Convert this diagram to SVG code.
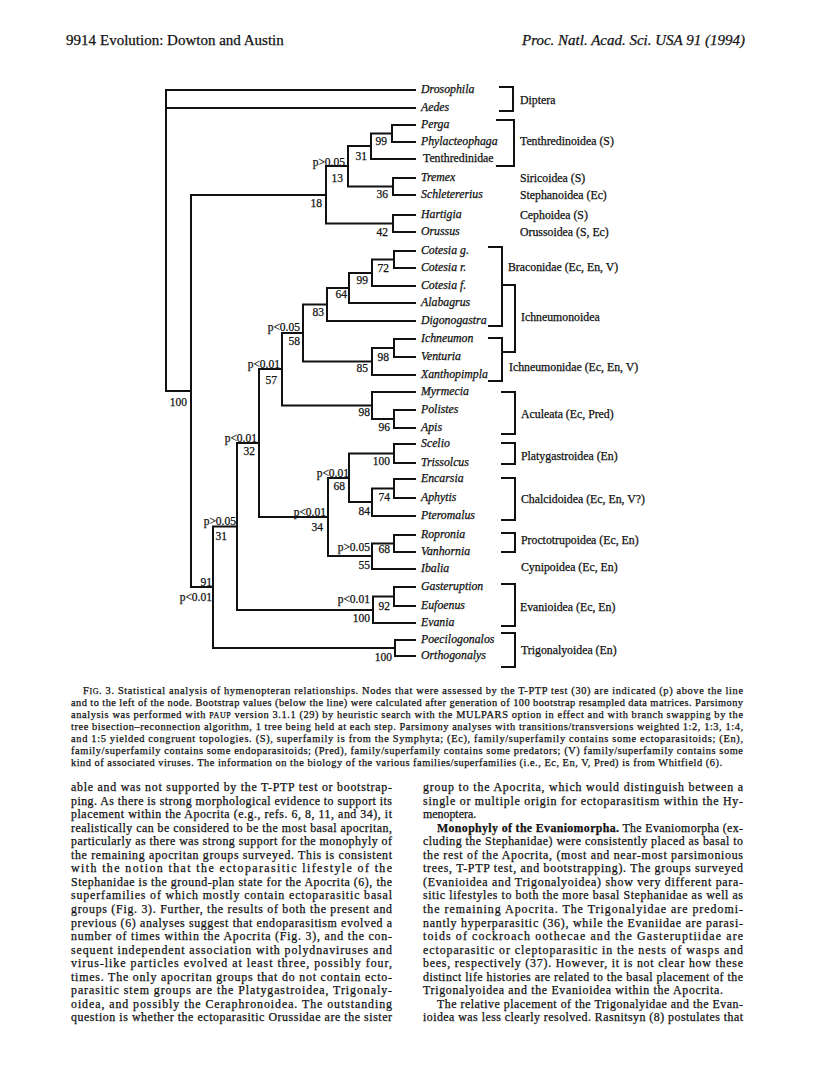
<svg xmlns="http://www.w3.org/2000/svg" width="816" height="1078" viewBox="0 0 816 1078">
<style>
.bg{fill:#fff}
.ln{fill:none;stroke:#111;stroke-width:2;stroke-linecap:square;stroke-linejoin:miter}
.t{font-family:"Liberation Serif","Times New Roman",serif;fill:#111;stroke:#111;stroke-width:0.25px}
.lf{font-size:11.8px;font-style:italic}
.lr{font-size:11.8px}
.bs{font-size:11.5px;text-anchor:end}
.gl{font-size:11.8px}
.hdr{font-size:15px}
.cap{font-size:10.4px}
.body{font-size:11.9px}
.b{font-weight:bold}
</style>
<rect class="bg" x="0" y="0" width="816" height="1078"/>
<g id="header" class="t">
<text class="hdr" x="66" y="45">9914</text>
<text class="hdr" x="100" y="45">Evolution: Dowton and Austin</text>
<text class="hdr" x="745" y="45" text-anchor="end" font-style="italic">Proc. Natl. Acad. Sci. USA 91 (1994)</text>
</g>
<g id="connectors" class="ln">
<path d="M415,90 H166 V391 H191 M415,108 H166"/>
<path d="M415,125 H392 V142 H415"/>
<path d="M392,133.5 H371 V159 H415"/>
<path d="M415,178 H393 V195 H415"/>
<path d="M371,146 H348 V186.5 H393"/>
<path d="M415,215 H393 V232 H415"/>
<path d="M348,166 H326 V223.5 H393"/>
<path d="M415,251 H394 V268 H415"/>
<path d="M394,259.5 H372 V286 H415"/>
<path d="M372,273 H349 V303 H415"/>
<path d="M349,288 H327 V321 H415"/>
<path d="M415,339 H394 V357 H415"/>
<path d="M394,348 H372 V375 H415"/>
<path d="M327,304.5 H303 V361.5 H372"/>
<path d="M415,410 H394 V428 H415"/>
<path d="M415,392 H372 V419 H394"/>
<path d="M303,333 H282 V405.5 H372"/>
<path d="M415,444 H394 V463 H415"/>
<path d="M415,479 H394 V498 H415"/>
<path d="M394,488.5 H372 V516 H415"/>
<path d="M394,453.5 H349 V502 H372"/>
<path d="M415,535 H394 V552 H415"/>
<path d="M394,543.5 H372 V569 H415"/>
<path d="M349,478 H328 V556 H372"/>
<path d="M282,369 H259 V517 H328"/>
<path d="M415,587 H394 V606 H415"/>
<path d="M394,596.5 H373 V623 H415"/>
<path d="M259,443 H237 V610 H373"/>
<path d="M415,640 H395 V656 H415"/>
<path d="M237,526.5 H213 V648 H395"/>
<path d="M326,195 H191 V587 H213"/>
</g>
<g id="brackets" class="ln">
<path d="M500,87 H513 V111 H500"/>
<path d="M497,120 H514 V166 H497"/>
<path d="M489,247 H502 V326 H489"/>
<path d="M489,338 H502 V381 H489"/>
<path d="M502,285 H515 V352 H502"/>
<path d="M502,392 H515 V434 H502"/>
<path d="M502,443 H515 V464 H502"/>
<path d="M502,478 H515 V520 H502"/>
<path d="M502,533 H515 V552 H502"/>
<path d="M502,584 H515 V626 H502"/>
<path d="M502,633 H515 V667 H502"/>
</g>
<g id="support-values" class="t">
<text class="bs" x="387" y="145">99</text>
<text class="bs" x="367" y="160">31</text>
<text class="bs" x="345" y="166">p&gt;0.05</text>
<text class="bs" x="343" y="182">13</text>
<text class="bs" x="388" y="198">36</text>
<text class="bs" x="388" y="236">42</text>
<text class="bs" x="322" y="207">18</text>
<text class="bs" x="389" y="272">72</text>
<text class="bs" x="368" y="284">99</text>
<text class="bs" x="347" y="298">64</text>
<text class="bs" x="324" y="316">83</text>
<text class="bs" x="300" y="331">p&lt;0.05</text>
<text class="bs" x="300" y="345">58</text>
<text class="bs" x="389" y="361">98</text>
<text class="bs" x="368" y="372">85</text>
<text class="bs" x="280" y="368">p&lt;0.01</text>
<text class="bs" x="277" y="384">57</text>
<text class="bs" x="370" y="416">98</text>
<text class="bs" x="390" y="431">96</text>
<text class="bs" x="257" y="442">p&lt;0.01</text>
<text class="bs" x="255" y="455">32</text>
<text class="bs" x="390" y="465">100</text>
<text class="bs" x="349" y="477">p&lt;0.01</text>
<text class="bs" x="345" y="490">68</text>
<text class="bs" x="390" y="501">74</text>
<text class="bs" x="370" y="515">84</text>
<text class="bs" x="326" y="516">p&lt;0.01</text>
<text class="bs" x="323" y="531">34</text>
<text class="bs" x="236" y="525">p&gt;0.05</text>
<text class="bs" x="227" y="540">31</text>
<text class="bs" x="370" y="551">p&gt;0.05</text>
<text class="bs" x="390" y="553">68</text>
<text class="bs" x="370" y="569">55</text>
<text class="bs" x="212" y="586">91</text>
<text class="bs" x="212" y="601">p&lt;0.01</text>
<text class="bs" x="370" y="603">p&lt;0.01</text>
<text class="bs" x="390" y="610">92</text>
<text class="bs" x="370" y="622">100</text>
<text class="bs" x="392" y="661">100</text>
<text class="bs" x="187" y="406">100</text>
</g>
<g id="leaves" class="t">
<g id="n-drosophila"><text class="lf" x="421" y="93">Drosophila</text></g>
<g id="n-aedes"><text class="lf" x="421" y="111">Aedes</text></g>
<g id="n-perga"><text class="lf" x="421" y="128">Perga</text></g>
<g id="n-phylacteophaga"><text class="lf" x="421" y="145">Phylacteophaga</text></g>
<g id="n-tenthredinidae"><text class="lr" x="423" y="162">Tenthredinidae</text></g>
<g id="n-tremex"><text class="lf" x="421" y="181">Tremex</text></g>
<g id="n-schletererius"><text class="lf" x="421" y="198">Schletererius</text></g>
<g id="n-hartigia"><text class="lf" x="421" y="218">Hartigia</text></g>
<g id="n-orussus"><text class="lf" x="421" y="235">Orussus</text></g>
<g id="n-cotesia-g"><text class="lf" x="421" y="254">Cotesia g.</text></g>
<g id="n-cotesia-r"><text class="lf" x="421" y="271">Cotesia r.</text></g>
<g id="n-cotesia-f"><text class="lf" x="421" y="289">Cotesia f.</text></g>
<g id="n-alabagrus"><text class="lf" x="421" y="306">Alabagrus</text></g>
<g id="n-digonogastra"><text class="lf" x="421" y="324">Digonogastra</text></g>
<g id="n-ichneumon"><text class="lf" x="421" y="342">Ichneumon</text></g>
<g id="n-venturia"><text class="lf" x="421" y="360">Venturia</text></g>
<g id="n-xanthopimpla"><text class="lf" x="421" y="378">Xanthopimpla</text></g>
<g id="n-myrmecia"><text class="lf" x="421" y="395">Myrmecia</text></g>
<g id="n-polistes"><text class="lf" x="421" y="413">Polistes</text></g>
<g id="n-apis"><text class="lf" x="421" y="431">Apis</text></g>
<g id="n-scelio"><text class="lf" x="421" y="447">Scelio</text></g>
<g id="n-trissolcus"><text class="lf" x="421" y="466">Trissolcus</text></g>
<g id="n-encarsia"><text class="lf" x="421" y="482">Encarsia</text></g>
<g id="n-aphytis"><text class="lf" x="421" y="501">Aphytis</text></g>
<g id="n-pteromalus"><text class="lf" x="421" y="519">Pteromalus</text></g>
<g id="n-ropronia"><text class="lf" x="421" y="538">Ropronia</text></g>
<g id="n-vanhornia"><text class="lf" x="421" y="555">Vanhornia</text></g>
<g id="n-ibalia"><text class="lf" x="421" y="572">Ibalia</text></g>
<g id="n-gasteruption"><text class="lf" x="421" y="590">Gasteruption</text></g>
<g id="n-eufoenus"><text class="lf" x="421" y="609">Eufoenus</text></g>
<g id="n-evania"><text class="lf" x="421" y="626">Evania</text></g>
<g id="n-poecilogonalos"><text class="lf" x="421" y="643">Poecilogonalos</text></g>
<g id="n-orthogonalys"><text class="lf" x="421" y="659">Orthogonalys</text></g>
</g>
<g id="groups" class="t">
<g id="g-diptera"><text class="gl" x="520" y="104">Diptera</text></g>
<g id="g-tenthredinoidea"><text class="gl" x="520" y="145">Tenthredinoidea (S)</text></g>
<g id="g-siricoidea"><text class="gl" x="520" y="182">Siricoidea (S)</text></g>
<g id="g-stephanoidea"><text class="gl" x="520" y="199">Stephanoidea (Ec)</text></g>
<g id="g-cephoidea"><text class="gl" x="520" y="219">Cephoidea (S)</text></g>
<g id="g-orussoidea"><text class="gl" x="520" y="236">Orussoidea (S, Ec)</text></g>
<g id="g-braconidae"><text class="gl" x="508" y="271">Braconidae (Ec, En, V)</text></g>
<g id="g-ichneumonoidea"><text class="gl" x="521" y="321">Ichneumonoidea</text></g>
<g id="g-ichneumonidae"><text class="gl" x="509" y="371">Ichneumonidae (Ec, En, V)</text></g>
<g id="g-aculeata"><text class="gl" x="521" y="418">Aculeata (Ec, Pred)</text></g>
<g id="g-platygastroidea"><text class="gl" x="521" y="460">Platygastroidea (En)</text></g>
<g id="g-chalcidoidea"><text class="gl" x="521" y="503">Chalcidoidea (Ec, En, V?)</text></g>
<g id="g-proctotrupoidea"><text class="gl" x="521" y="544">Proctotrupoidea (Ec, En)</text></g>
<g id="g-cynipoidea"><text class="gl" x="521" y="571">Cynipoidea (Ec, En)</text></g>
<g id="g-evanioidea"><text class="gl" x="520" y="611">Evanioidea (Ec, En)</text></g>
<g id="g-trigonalyoidea"><text class="gl" x="521" y="654">Trigonalyoidea (En)</text></g>
</g>
<g id="caption" class="t cap">
<text x="83" y="694" textLength="660" lengthAdjust="spacing">F<tspan font-size="8px">IG</tspan>. 3.  Statistical analysis of hymenopteran relationships. Nodes that were assessed by the T-PTP test (30) are indicated (p) above the line</text>
<text x="71" y="706" textLength="672" lengthAdjust="spacing">and to the left of the node. Bootstrap values (below the line) were calculated after generation of 100 bootstrap resampled data matrices. Parsimony</text>
<text x="71" y="718" textLength="672" lengthAdjust="spacing">analysis was performed with <tspan font-size="8px">PAUP</tspan> version 3.1.1 (29) by heuristic search with the MULPARS option in effect and with branch swapping by the</text>
<text x="71" y="730" textLength="672" lengthAdjust="spacing">tree bisection–reconnection algorithm, 1 tree being held at each step. Parsimony analyses with transitions/transversions weighted 1:2, 1:3, 1:4,</text>
<text x="71" y="742" textLength="672" lengthAdjust="spacing">and 1:5 yielded congruent topologies. (S), superfamily is from the Symphyta; (Ec), family/superfamily contains some ectoparasitoids; (En),</text>
<text x="71" y="754" textLength="672" lengthAdjust="spacing">family/superfamily contains some endoparasitoids; (Pred), family/superfamily contains some predators; (V) family/superfamily contains some</text>
<text x="71" y="766" textLength="651" lengthAdjust="spacing">kind of associated viruses. The information on the biology of the various families/superfamilies (i.e., Ec, En, V, Pred) is from Whitfield (6).</text>
</g>
<g id="body-left" class="t body">
<text x="71" y="791" textLength="321" lengthAdjust="spacing">able and was not supported by the T-PTP test or bootstrap-</text>
<text x="71" y="804.6" textLength="321" lengthAdjust="spacing">ping. As there is strong morphological evidence to support its</text>
<text x="71" y="818.1" textLength="321" lengthAdjust="spacing">placement within the Apocrita (e.g., refs. 6, 8, 11, and 34), it</text>
<text x="71" y="831.7" textLength="321" lengthAdjust="spacing">realistically can be considered to be the most basal apocritan,</text>
<text x="71" y="845.2" textLength="321" lengthAdjust="spacing">particularly as there was strong support for the monophyly of</text>
<text x="71" y="858.8" textLength="321" lengthAdjust="spacing">the remaining apocritan groups surveyed. This is consistent</text>
<text x="71" y="872.3" textLength="321" lengthAdjust="spacing">with the notion that the ectoparasitic lifestyle of the</text>
<text x="71" y="885.9" textLength="321" lengthAdjust="spacing">Stephanidae is the ground-plan state for the Apocrita (6), the</text>
<text x="71" y="899.4" textLength="321" lengthAdjust="spacing">superfamilies of which mostly contain ectoparasitic basal</text>
<text x="71" y="913" textLength="321" lengthAdjust="spacing">groups (Fig. 3). Further, the results of both the present and</text>
<text x="71" y="926.5" textLength="321" lengthAdjust="spacing">previous (6) analyses suggest that endoparasitism evolved a</text>
<text x="71" y="940.1" textLength="321" lengthAdjust="spacing">number of times within the Apocrita (Fig. 3), and the con-</text>
<text x="71" y="953.6" textLength="321" lengthAdjust="spacing">sequent independent association with polydnaviruses and</text>
<text x="71" y="967.2" textLength="321" lengthAdjust="spacing">virus-like particles evolved at least three, possibly four,</text>
<text x="71" y="980.7" textLength="321" lengthAdjust="spacing">times. The only apocritan groups that do not contain ecto-</text>
<text x="71" y="994.3" textLength="321" lengthAdjust="spacing">parasitic stem groups are the Platygastroidea, Trigonaly-</text>
<text x="71" y="1007.8" textLength="321" lengthAdjust="spacing">oidea, and possibly the Ceraphronoidea. The outstanding</text>
<text x="71" y="1021.4" textLength="321" lengthAdjust="spacing">question is whether the ectoparasitic Orussidae are the sister</text>
</g>
<g id="body-right" class="t body">
<text x="423" y="791" textLength="320" lengthAdjust="spacing">group to the Apocrita, which would distinguish between a</text>
<text x="423" y="804.6" textLength="320" lengthAdjust="spacing">single or multiple origin for ectoparasitism within the Hy-</text>
<text x="423" y="818.1">menoptera.</text>
<text x="437" y="831.7" textLength="306" lengthAdjust="spacing"><tspan class="b">Monophyly of the Evaniomorpha.</tspan> The Evaniomorpha (ex-</text>
<text x="423" y="845.2" textLength="320" lengthAdjust="spacing">cluding the Stephanidae) were consistently placed as basal to</text>
<text x="423" y="858.8" textLength="320" lengthAdjust="spacing">the rest of the Apocrita, (most and near-most parsimonious</text>
<text x="423" y="872.3" textLength="320" lengthAdjust="spacing">trees, T-PTP test, and bootstrapping). The groups surveyed</text>
<text x="423" y="885.9" textLength="320" lengthAdjust="spacing">(Evanioidea and Trigonalyoidea) show very different para-</text>
<text x="423" y="899.4" textLength="320" lengthAdjust="spacing">sitic lifestyles to both the more basal Stephanidae as well as</text>
<text x="423" y="913" textLength="320" lengthAdjust="spacing">the remaining Apocrita. The Trigonalyidae are predomi-</text>
<text x="423" y="926.5" textLength="320" lengthAdjust="spacing">nantly hyperparasitic (36), while the Evaniidae are parasi-</text>
<text x="423" y="940.1" textLength="320" lengthAdjust="spacing">toids of cockroach oothecae and the Gasteruptiidae are</text>
<text x="423" y="953.6" textLength="320" lengthAdjust="spacing">ectoparasitic or cleptoparasitic in the nests of wasps and</text>
<text x="423" y="967.2" textLength="320" lengthAdjust="spacing">bees, respectively (37). However, it is not clear how these</text>
<text x="423" y="980.7" textLength="320" lengthAdjust="spacing">distinct life histories are related to the basal placement of the</text>
<text x="423" y="994.3" textLength="300" lengthAdjust="spacing">Trigonalyoidea and the Evanioidea within the Apocrita.</text>
<text x="437" y="1007.8" textLength="306" lengthAdjust="spacing">The relative placement of the Trigonalyidae and the Evan-</text>
<text x="423" y="1021.4" textLength="320" lengthAdjust="spacing">ioidea was less clearly resolved. Rasnitsyn (8) postulates that</text>
</g>
</svg>
